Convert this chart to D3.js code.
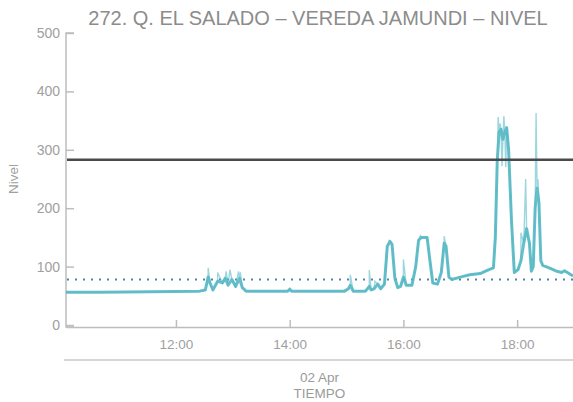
<!DOCTYPE html>
<html>
<head>
<meta charset="utf-8">
<script src="https://cdn.jsdelivr.net/npm/d3@7"></script>
<style>
  body { margin: 0; background: #fff; }
  text { font-family: "Liberation Sans", Arial, sans-serif; }
</style>
</head>
<body>
<div id="chart"></div>
<script>
const title = "272. Q. EL SALADO \u2013 VEREDA JAMUNDI \u2013 NIVEL";
const yLabel = "Nivel";
const xLabel = "TIEMPO";
const dayLabel = "02 Apr";
const yTicks = [0, 100, 200, 300, 400, 500];
const timeDomain = ["10:04", "19:00"];

// main (smoothed) level series
const levelTimes = ["10:04", "10:40", "11:33", "12:25", "12:31", "12:34", "12:36", "12:39", "12:44", "12:49",
    "12:52", "12:55", "12:59", "13:03", "13:07", "13:10", "13:14", "13:18", "13:58", "14:00",
    "14:02", "14:58", "15:02", "15:04", "15:07", "15:20", "15:24", "15:26", "15:29", "15:33",
    "15:36", "15:40", "15:43", "15:46", "15:48", "15:51", "15:54", "15:57", "16:00", "16:03",
    "16:09", "16:13", "16:16", "16:19", "16:25", "16:28", "16:31", "16:36", "16:40", "16:43",
    "16:45", "16:48", "16:51", "17:00", "17:10", "17:21", "17:29", "17:35", "17:37", "17:39",
    "17:41", "17:43", "17:45", "17:47", "17:49", "17:51", "17:54", "17:57", "18:01", "18:04",
    "18:07", "18:10", "18:13", "18:15", "18:17", "18:19", "18:21", "18:23", "18:25", "18:27",
    "18:35", "18:42", "18:47", "18:50", "18:59"];
const levelValues = [56, 56, 57, 58, 60, 82, 72, 60, 75, 72,
    80, 68, 78, 66, 80, 64, 58, 58, 58, 61,
    58, 58, 62, 68, 58, 58, 66, 60, 62, 70,
    62, 70, 135, 143, 138, 80, 64, 66, 82, 68,
    68, 100, 145, 150, 150, 110, 72, 70, 90, 140,
    135, 82, 78, 82, 86, 88, 94, 98, 150, 280,
    330, 335, 318, 330, 338, 300, 180, 90, 95, 110,
    140, 165, 140, 92, 100, 200, 234, 210, 110, 102,
    97, 92, 90, 93, 84];

// raw readings that spike above the smoothed line
const spikeTimes = ["12:34", "12:44", "12:53", "12:57", "13:06", "13:08", "14:00", "15:04", "15:24", "15:30",
    "15:45", "16:00", "16:18", "16:43", "17:40", "17:42", "17:44", "17:46", "17:48", "18:04",
    "18:09", "18:11", "18:20", "18:22"];
const spikeValues = [98, 90, 92, 95, 92, 90, 64, 86, 94, 75,
    145, 112, 153, 152, 356, 345, 272, 358, 270, 158,
    250, 150, 363, 250];

const threshold = 283;   // solid dark line
const reference = 78;    // dotted line

const width = 573, height = 402;
const mLeft = 66, mRight = 574, mTop = 33, mBottom = 325, xAxisY = 327;

const parseTime = d3.timeParse("%H:%M");

const level = levelTimes.map((t, i) => ({ date: parseTime(t), value: levelValues[i] }));
const spikes = spikeTimes.map((t, i) => ({ date: parseTime(t), value: spikeValues[i] }));
const raw = level.concat(spikes).sort((a, b) => a.date - b.date);

const svg = d3.select("#chart").append("svg")
    .attr("width", width)
    .attr("height", height);

const x = d3.scaleTime()
    .domain(timeDomain.map(parseTime))
    .range([mLeft, mRight]);

const y = d3.scaleLinear()
    .domain([0, 500])
    .range([mBottom, mTop]);

// title
svg.append("text")
    .attr("x", 318)
    .attr("y", 25)
    .attr("text-anchor", "middle")
    .attr("font-size", "20px")
    .attr("fill", "#8c8c8c")
    .text(title);

// y axis
const yAxis = svg.append("g")
    .attr("transform", "translate(" + mLeft + ",0)")
    .call(d3.axisLeft(y).tickValues(yTicks).tickSizeInner(-8).tickSizeOuter(-8).tickPadding(6));
yAxis.select(".domain").attr("stroke", "#bdbdbd").attr("stroke-width", 1.5)
    .attr("d", "M8," + mTop + "H0V" + xAxisY + "H8");
yAxis.selectAll(".tick line").attr("stroke", "#bdbdbd").attr("stroke-width", 1.5);
yAxis.selectAll(".tick text").attr("fill", "#a0a0a0").attr("font-size", "14px");

svg.append("text")
    .attr("transform", "translate(18," + ((mTop + mBottom) / 2) + ") rotate(-90)")
    .attr("text-anchor", "middle")
    .attr("font-size", "13.5px")
    .attr("fill", "#a0a0a0")
    .text(yLabel);

// x axis
const xAxis = svg.append("g")
    .attr("transform", "translate(0," + xAxisY + ")")
    .call(d3.axisBottom(x).ticks(d3.timeHour.every(2)).tickFormat(d3.timeFormat("%H:%M"))
        .tickSizeInner(-7).tickSizeOuter(0).tickPadding(12));
xAxis.select(".domain").attr("stroke", "#bdbdbd").attr("stroke-width", 1.5);
xAxis.selectAll(".tick line").attr("stroke", "#bdbdbd").attr("stroke-width", 1.5);
xAxis.selectAll(".tick text").attr("fill", "#a0a0a0").attr("font-size", "13.5px");

// second axis band with the day and axis title
svg.append("line")
    .attr("x1", mLeft - 2).attr("x2", width)
    .attr("y1", 360).attr("y2", 360)
    .attr("stroke", "#c8c8c8")
    .attr("stroke-width", 1.5);

svg.append("text")
    .attr("x", (mLeft + width) / 2)
    .attr("y", 382)
    .attr("text-anchor", "middle")
    .attr("font-size", "13.5px")
    .attr("fill", "#9a9a9a")
    .text(dayLabel);

svg.append("text")
    .attr("x", (mLeft + width) / 2)
    .attr("y", 398)
    .attr("text-anchor", "middle")
    .attr("font-size", "13.5px")
    .attr("fill", "#9a9a9a")
    .text(xLabel);

// reference lines
svg.append("line")
    .attr("x1", mLeft + 1).attr("x2", width)
    .attr("y1", y(reference)).attr("y2", y(reference))
    .attr("stroke", "#4f86a8")
    .attr("stroke-width", 2)
    .attr("stroke-dasharray", "2,6");

const line = d3.line()
    .x(d => x(d.date))
    .y(d => y(d.value));

const plot = svg.append("g");

plot.append("path")
    .datum(raw)
    .attr("fill", "none")
    .attr("stroke", "#5bbcc7")
    .attr("stroke-opacity", 0.6)
    .attr("stroke-width", 1.4)
    .attr("d", line);

plot.append("path")
    .datum(level)
    .attr("fill", "none")
    .attr("stroke", "#55b8c4")
    .attr("stroke-opacity", 0.9)
    .attr("stroke-width", 3)
    .attr("stroke-linejoin", "round")
    .attr("d", line);

svg.append("line")
    .attr("x1", mLeft + 1).attr("x2", width)
    .attr("y1", y(threshold)).attr("y2", y(threshold))
    .attr("stroke", "#4a4a4a")
    .attr("stroke-width", 2.5);
</script>
</body>
</html>
